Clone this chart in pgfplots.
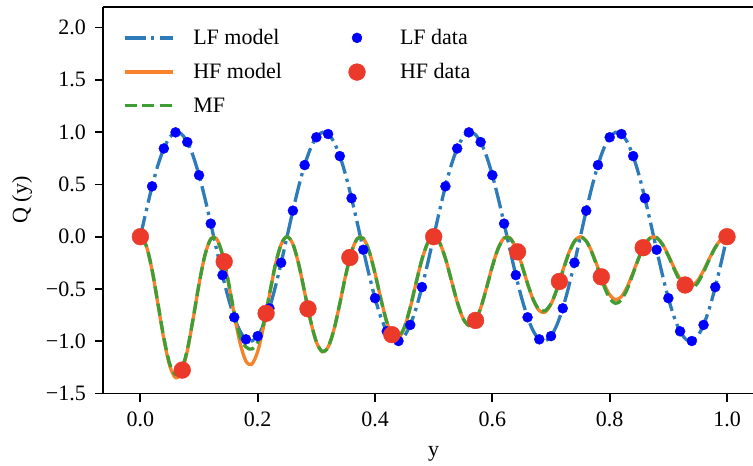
\documentclass[border=0pt]{standalone}
\usepackage{fontspec}
\setmainfont{Liberation Serif}
\usepackage{pgfplots}
\pgfplotsset{compat=1.18}
\usepackage{pgfplotstable}
\definecolor{cLF}{HTML}{2E7BBA}
\definecolor{cHF}{HTML}{F8822A}
\definecolor{cMF}{HTML}{3E9E35}
\definecolor{cHFd}{RGB}{236,58,42}

\pgfplotstableread{
y LF HF MF
0.00 0 0 0
0.01 0.249 -0.087 -0.085
0.02 0.482 -0.324 -0.318
0.03 0.685 -0.649 -0.640
0.04 0.844 -0.980 -0.965
0.05 0.951 -1.234 -1.215
0.06 0.998 -1.349 -1.320
0.07 0.982 -1.297 -1.275
0.08 0.905 -1.092 -1.080
0.09 0.771 -0.786 -0.780
0.10 0.588 -0.454 -0.452
0.11 0.368 -0.177 -0.178
0.12 0.125 -0.020 -0.022
0.13 -0.125 -0.020 -0.022
0.14 -0.368 -0.173 -0.172
0.15 -0.588 -0.437 -0.430
0.16 -0.771 -0.745 -0.725
0.17 -0.905 -1.019 -0.960
0.18 -0.982 -1.191 -1.055
0.19 -0.998 -1.219 -1.075
0.20 -0.951 -1.098 -1.010
0.21 -0.844 -0.858 -0.825
0.22 -0.685 -0.560 -0.550
0.23 -0.482 -0.275 -0.272
0.24 -0.249 -0.073 -0.072
0.25 0 0 0
0.26 0.249 -0.071 -0.070
0.27 0.482 -0.266 -0.265
0.28 0.685 -0.532 -0.530
0.29 0.844 -0.801 -0.800
0.30 0.951 -1.008 -1.005
0.31 0.998 -1.100 -1.098
0.32 0.982 -1.056 -1.058
0.33 0.905 -0.888 -0.890
0.34 0.771 -0.638 -0.640
0.35 0.588 -0.368 -0.370
0.36 0.368 -0.143 -0.145
0.37 0.125 -0.016 -0.018
0.38 -0.125 -0.016 -0.018
0.39 -0.368 -0.139 -0.140
0.40 -0.588 -0.350 -0.352
0.41 -0.771 -0.596 -0.598
0.42 -0.905 -0.814 -0.815
0.43 -0.982 -0.950 -0.945
0.44 -0.998 -0.970 -0.960
0.45 -0.951 -0.872 -0.865
0.46 -0.844 -0.680 -0.675
0.47 -0.685 -0.442 -0.440
0.48 -0.482 -0.217 -0.216
0.49 -0.249 -0.057 -0.057
0.50 0 0 0
0.51 0.249 -0.056 -0.056
0.52 0.482 -0.208 -0.208
0.53 0.685 -0.414 -0.414
0.54 0.844 -0.623 -0.622
0.55 0.951 -0.782 -0.780
0.56 0.998 -0.851 -0.848
0.57 0.982 -0.815 -0.815
0.58 0.905 -0.683 -0.685
0.59 0.771 -0.489 -0.492
0.60 0.588 -0.281 -0.285
0.61 0.368 -0.109 -0.112
0.62 0.125 -0.012 -0.015
0.63 -0.125 -0.012 -0.015
0.64 -0.368 -0.105 -0.108
0.65 -0.588 -0.264 -0.268
0.66 -0.771 -0.448 -0.450
0.67 -0.905 -0.609 -0.605
0.68 -0.982 -0.708 -0.698
0.69 -0.998 -0.721 -0.708
0.70 -0.951 -0.646 -0.640
0.71 -0.844 -0.502 -0.505
0.72 -0.685 -0.325 -0.332
0.73 -0.482 -0.159 -0.165
0.74 -0.249 -0.042 -0.045
0.75 0 0 -0.003
0.76 0.249 -0.040 -0.042
0.77 0.482 -0.150 -0.158
0.78 0.685 -0.297 -0.312
0.79 0.844 -0.445 -0.468
0.80 0.951 -0.556 -0.590
0.81 0.998 -0.602 -0.638
0.82 0.982 -0.573 -0.605
0.83 0.905 -0.478 -0.500
0.84 0.771 -0.341 -0.352
0.85 0.588 -0.195 -0.198
0.86 0.368 -0.075 -0.076
0.87 0.125 -0.009 -0.010
0.88 -0.125 -0.008 -0.010
0.89 -0.368 -0.071 -0.075
0.90 -0.588 -0.178 -0.185
0.91 -0.771 -0.299 -0.312
0.92 -0.905 -0.405 -0.425
0.93 -0.982 -0.467 -0.490
0.94 -0.998 -0.472 -0.498
0.95 -0.951 -0.420 -0.442
0.96 -0.844 -0.324 -0.338
0.97 -0.685 -0.208 -0.215
0.98 -0.482 -0.101 -0.104
0.99 -0.249 -0.026 -0.027
1.00 0 0 0
}\curves

\pgfplotstableread{
y Q
0.00 0
0.02 0.482
0.04 0.844
0.06 0.998
0.08 0.905
0.10 0.588
0.12 0.125
0.14 -0.368
0.16 -0.771
0.18 -0.982
0.20 -0.951
0.22 -0.685
0.24 -0.249
0.26 0.249
0.28 0.685
0.30 0.951
0.32 0.982
0.34 0.771
0.36 0.368
0.38 -0.125
0.40 -0.588
0.42 -0.905
0.44 -0.998
0.46 -0.844
0.48 -0.482
0.50 0
0.52 0.482
0.54 0.844
0.56 0.998
0.58 0.905
0.60 0.588
0.62 0.125
0.64 -0.368
0.66 -0.771
0.68 -0.982
0.70 -0.951
0.72 -0.685
0.74 -0.249
0.76 0.249
0.78 0.685
0.80 0.951
0.82 0.982
0.84 0.771
0.86 0.368
0.88 -0.125
0.90 -0.588
0.92 -0.905
0.94 -0.998
0.96 -0.844
0.98 -0.482
1.00 0
}\lfdata

\pgfplotstableread{
y Q
0.0000 0
0.0714 -1.276
0.1429 -0.239
0.2143 -0.733
0.2857 -0.690
0.3571 -0.199
0.4286 -0.937
0.5000 0
0.5714 -0.801
0.6429 -0.145
0.7143 -0.428
0.7857 -0.384
0.8571 -0.105
0.9286 -0.462
1.0000 0
}\hfdata

\pgfplotsset{
  lfstyle/.style={color=cLF, line width=3.3bp, dash pattern=on 21bp off 5.3bp on 3.3bp off 5.3bp},
  hfstyle/.style={color=cHF, line width=3.3bp, solid},
  mfstyle/.style={color=cMF, line width=3.3bp, dash pattern=on 12.2bp off 5.3bp},
  lfdstyle/.style={only marks, mark=*, mark size=5bp, color=blue},
  hfdstyle/.style={only marks, mark=*, mark size=8.4bp, color=cHFd},
  linelegend/.style={legend image code/.code={\draw[##1] (0bp,0bp) -- (48bp,0bp);}},
  marklegend/.style={legend image code/.code={\path[draw=none, fill=none] (0bp,0bp) -- (48bp,0bp);\draw[##1] plot coordinates {(24bp,0bp)};}},
}

\begin{document}
\begin{tikzpicture}[font=\fontsize{22bp}{26bp}\selectfont]
\begin{axis}[
  scale only axis,
  width=649.7bp, height=386.8bp,
  xmin=-0.0632, xmax=1.0443,
  ymin=-1.5, ymax=2.2,
  clip=false,
  axis x line*=bottom, axis y line*=left,
  axis line style={-, line width=1.76bp, black},
  tick align=outside,
  major tick length=8bp,
  tick style={line width=1.76bp, black},
  xtick={0,0.2,0.4,0.6,0.8,1.0},
  xticklabels={0.0,0.2,0.4,0.6,0.8,1.0},
  ytick={-1.5,-1,-0.5,0,0.5,1,1.5,2},
  yticklabels={−1.5,−1.0,−0.5,0.0,0.5,1.0,1.5,2.0},
  xticklabel style={inner sep=0pt, yshift=-10.2bp},
  yticklabel style={inner sep=0pt, xshift=-9.3bp},
  xlabel={y}, ylabel={Q (y)},
  every axis x label/.style={at={(axis cs:0.5,-1.5)}, anchor=center, yshift=-60bp},
  every axis y label/.style={at={(axis description cs:-0.1251,0.5)}, rotate=90, anchor=center},
  legend columns=2,
  legend cell align=left,
  legend style={draw=none, fill=none, at={(axis description cs:0,1)}, anchor=north west,
    xshift=19.7bp, yshift=-22.8bp, inner sep=0pt, outer sep=0pt,
    row sep=17.4bp, column sep=19bp,
    /tikz/every even column/.append style={column sep=51.1bp},
    nodes={inner sep=0pt}},
]
\addlegendimage{lfstyle, linelegend}
\addlegendentry{LF model}
\addlegendimage{lfdstyle, marklegend}
\addlegendentry{LF data}
\addlegendimage{hfstyle, linelegend}
\addlegendentry{HF model}
\addlegendimage{hfdstyle, marklegend}
\addlegendentry{HF data}
\addlegendimage{mfstyle, linelegend}
\addlegendentry{MF}

\addplot[lfdstyle, forget plot] table[x=y, y=Q] {\lfdata};
\addplot[hfdstyle, forget plot] table[x=y, y=Q] {\hfdata};
\addplot[lfstyle, smooth, forget plot] table[x=y, y=LF] {\curves};
\addplot[hfstyle, smooth, forget plot] table[x=y, y=HF] {\curves};
\addplot[mfstyle, smooth, forget plot] table[x=y, y=MF] {\curves};

\draw[line width=1.76bp, black] (rel axis cs:0,1) -- (rel axis cs:1,1);
\end{axis}
\pgfresetboundingbox
\useasboundingbox (-103.3bp,-72.5bp) rectangle (649.7bp,393.5bp);
\end{tikzpicture}
\end{document}
